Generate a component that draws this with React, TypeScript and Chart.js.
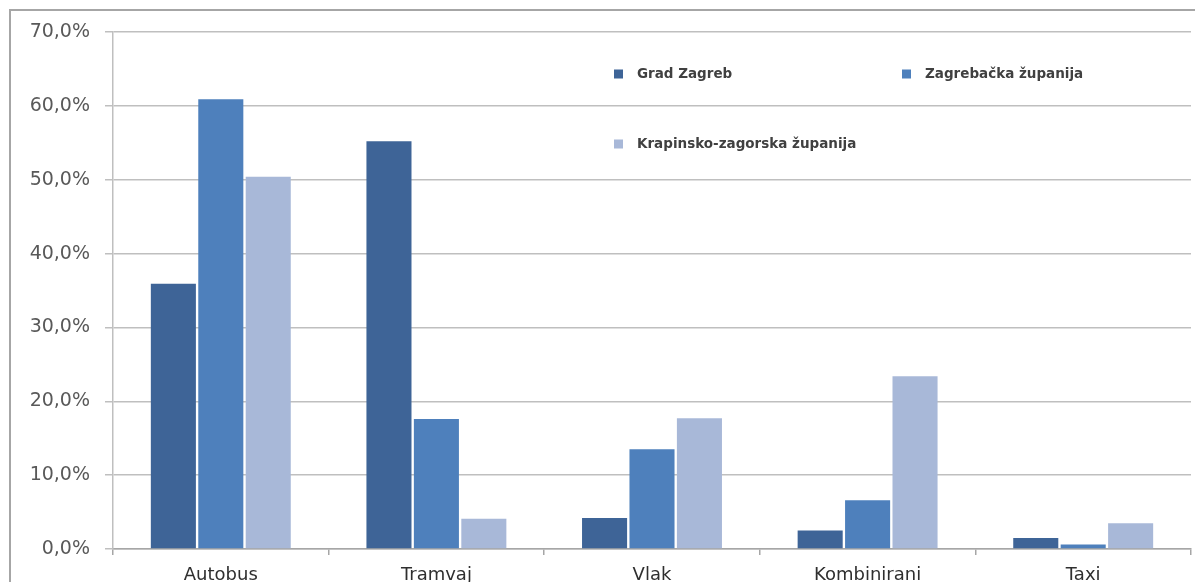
import React, { useEffect, useRef } from "react";
import { Chart, registerables } from "chart.js";

Chart.register(...registerables);

const categories = ["Autobus", "Tramvaj", "Vlak", "Kombinirani", "Taxi"];
const seriesNames = ["Grad Zagreb", "Zagrebačka županija", "Krapinsko-zagorska županija"];
const gradZagreb = [35.9, 55.2, 4.2, 2.5, 1.5];
const zagrebackaZupanija = [60.9, 17.6, 13.5, 6.6, 0.6];
const krapinskoZagorska = [50.4, 4.1, 17.7, 23.4, 3.5];
const seriesColors = ["#3E6497", "#4E80BC", "#A8B8D8"];
const yTicks = [0, 10, 20, 30, 40, 50, 60, 70];

const frameAndLegend = {
  id: "frameAndLegend",
  afterDraw(chart: any) {
    const ctx = chart.ctx;
    ctx.save();
    // outer frame (top and left edges visible)
    ctx.fillStyle = "#A6A6A6";
    ctx.fillRect(9, 9, 2, 582 - 9);
    ctx.fillRect(9, 9, 1195 - 9, 2);

    // legend
    const items = [
      { x: 614, y: 74 },
      { x: 902, y: 74 },
      { x: 614, y: 144 },
    ];
    ctx.font = "bold 13.5px 'DejaVu Sans'";
    ctx.textBaseline = "middle";
    ctx.textAlign = "left";
    items.forEach((it, i) => {
      ctx.fillStyle = seriesColors[i];
      ctx.fillRect(it.x, it.y - 4.5, 9, 9);
      ctx.fillStyle = "#404040";
      ctx.fillText(seriesNames[i], it.x + 23, it.y);
    });
    ctx.restore();
  },
};

export default function App() {
  const ref = useRef<HTMLCanvasElement | null>(null);

  useEffect(() => {
    if (!ref.current) return;
    const data = [gradZagreb, zagrebackaZupanija, krapinskoZagorska];
    const chart = new Chart(ref.current, {
      type: "bar",
      data: {
        labels: categories,
        datasets: seriesNames.map((name, i) => ({
          label: name,
          data: data[i],
          backgroundColor: seriesColors[i],
          borderWidth: 0,
          categoryPercentage: 0.66,
          barPercentage: 0.95,
        })),
      },
      options: {
        responsive: false,
        animation: false,
        devicePixelRatio: 1,
        layout: { padding: { left: 0, right: 4, top: 32, bottom: 0 } },
        plugins: {
          legend: { display: false },
          tooltip: { enabled: false },
        },
        scales: {
          x: {
            offset: true,
            grid: {
              offset: true,
              drawOnChartArea: false,
              drawTicks: true,
              tickLength: 6,
              color: "#A6A6A6",
              lineWidth: 1.5,
            },
            border: { color: "#A6A6A6", width: 1.5 },
            ticks: {
              padding: 10,
              color: "#2F2F2F",
              font: { family: "'DejaVu Sans'", size: 18 },
            },
            afterFit(scale: any) {
              scale.height = 33;
            },
          },
          y: {
            min: 0,
            max: 70,
            afterBuildTicks(scale: any) {
              scale.ticks = yTicks.map((v) => ({ value: v }));
            },
            grid: {
              color: "#BFBFBF",
              lineWidth: 1.5,
              drawTicks: true,
              tickLength: 8,
            },
            border: { color: "#BFBFBF", width: 1.5 },
            ticks: {
              padding: 15,
              color: "#595959",
              font: { family: "'DejaVu Sans'", size: 19 },
              callback: (v: any) => Number(v).toFixed(1).replace(".", ",") + "%",
            },
            afterFit(scale: any) {
              scale.width = 113;
            },
          },
        },
      },
      plugins: [frameAndLegend],
    });
    return () => chart.destroy();
  }, []);

  return (
    <canvas
      ref={ref}
      width={1195}
      height={582}
      style={{ position: "absolute", left: 0, top: 0, display: "block", width: 1195, height: 582 }}
    />
  );
}
